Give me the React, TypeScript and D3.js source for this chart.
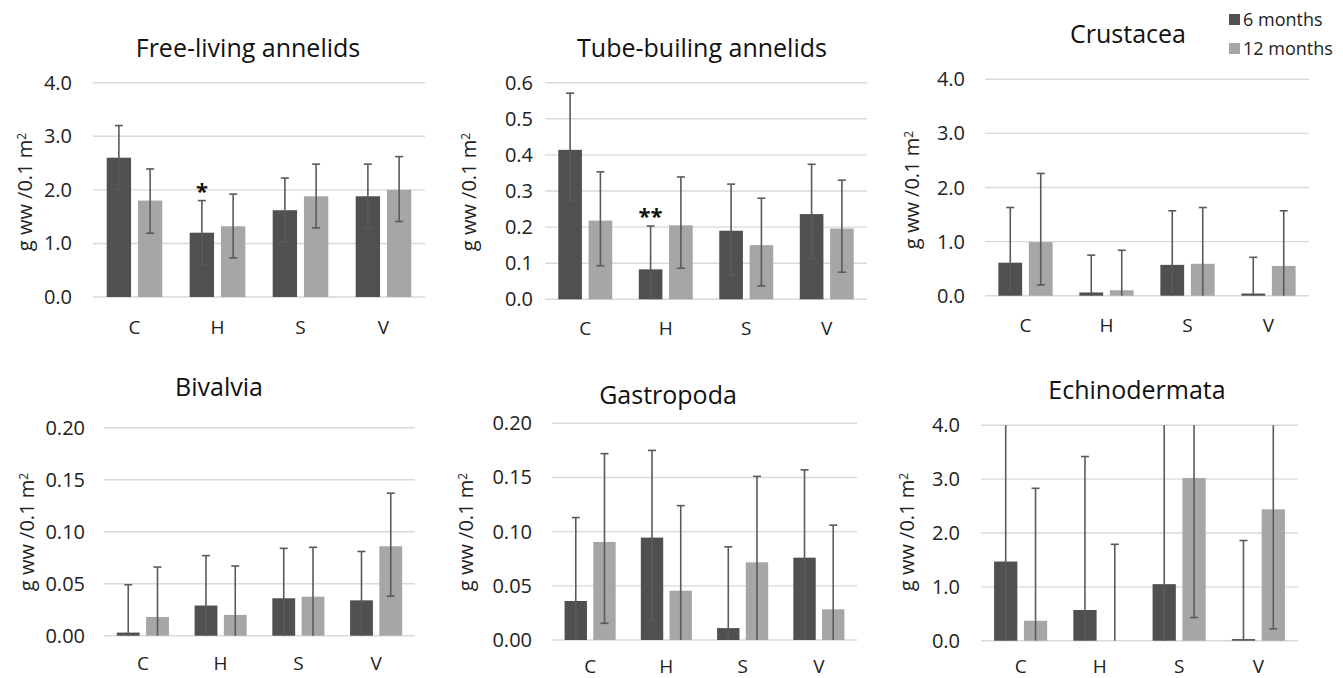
import React from "react";
import * as d3 from "d3";

const categories = ["C", "H", "S", "V"];
const seriesNames = ["6 months", "12 months"];
const titles = [
  "Free-living annelids",
  "Tube-builing annelids",
  "Crustacea",
  "Bivalvia",
  "Gastropoda",
  "Echinodermata",
];

// means and error-bar ends (upper / lower) per panel, per series
const freeMean6 = [2.6, 1.2, 1.62, 1.88];
const freeHi6 = [3.2, 1.8, 2.22, 2.48];
const freeLo6 = [2.0, 0.6, 1.03, 1.29];
const freeMean12 = [1.8, 1.32, 1.88, 2.0];
const freeHi12 = [2.39, 1.92, 2.48, 2.62];
const freeLo12 = [1.19, 0.73, 1.29, 1.41];

const tubeMean6 = [0.414, 0.083, 0.19, 0.236];
const tubeHi6 = [0.571, 0.203, 0.319, 0.374];
const tubeLo6 = [0.272, -0.04, 0.067, 0.113];
const tubeMean12 = [0.218, 0.205, 0.15, 0.196];
const tubeHi12 = [0.353, 0.339, 0.28, 0.33];
const tubeLo12 = [0.093, 0.086, 0.037, 0.075];

const crusMean6 = [0.61, 0.06, 0.57, 0.04];
const crusHi6 = [1.63, 0.75, 1.57, 0.71];
const crusLo6 = [-0.41, -0.63, -0.43, -0.63];
const crusMean12 = [0.99, 0.1, 0.59, 0.55];
const crusHi12 = [2.26, 0.84, 1.63, 1.57];
const crusLo12 = [0.2, -0.64, -0.45, -0.47];

const bivMean6 = [0.003, 0.029, 0.036, 0.034];
const bivHi6 = [0.049, 0.077, 0.084, 0.081];
const bivLo6 = [-0.043, -0.019, -0.012, -0.013];
const bivMean12 = [0.018, 0.02, 0.0375, 0.086];
const bivHi12 = [0.066, 0.067, 0.085, 0.137];
const bivLo12 = [-0.03, -0.027, -0.01, 0.038];

const gasMean6 = [0.036, 0.0945, 0.011, 0.076];
const gasHi6 = [0.113, 0.175, 0.086, 0.157];
const gasLo6 = [-0.041, 0.018, -0.064, -0.005];
const gasMean12 = [0.0905, 0.0455, 0.0717, 0.0283];
const gasHi12 = [0.172, 0.124, 0.151, 0.106];
const gasLo12 = [0.0154, -0.033, -0.008, -0.049];

const echMean6 = [1.47, 0.57, 1.05, 0.03];
const echHi6 = [4.6, 3.42, 4.2, 1.86];
const echLo6 = [-1.66, -2.28, -2.1, -1.8];
const echMean12 = [0.37, 0, 3.02, 2.44];
const echHi12 = [2.83, 1.79, 5.61, 4.66];
const echLo12 = [-2.09, -1.79, 0.43, 0.22];

const yMax = [4, 0.6, 4, 0.2, 0.2, 4];
const yStep = [1, 0.1, 1, 0.05, 0.05, 1];
const yDecimals = [1, 1, 1, 2, 2, 1];

// significance marks: [panel, category, series, text]
const marks: [number, string, number, string][] = [
  [0, "H", 0, "*"],
  [1, "H", 0, "**"],
];

const panelData = [
  { mean: [freeMean6, freeMean12], hi: [freeHi6, freeHi12], lo: [freeLo6, freeLo12] },
  { mean: [tubeMean6, tubeMean12], hi: [tubeHi6, tubeHi12], lo: [tubeLo6, tubeLo12] },
  { mean: [crusMean6, crusMean12], hi: [crusHi6, crusHi12], lo: [crusLo6, crusLo12] },
  { mean: [bivMean6, bivMean12], hi: [bivHi6, bivHi12], lo: [bivLo6, bivLo12] },
  { mean: [gasMean6, gasMean12], hi: [gasHi6, gasHi12], lo: [gasLo6, gasLo12] },
  { mean: [echMean6, echMean12], hi: [echHi6, echHi12], lo: [echLo6, echLo12] },
];

// layout (pixels)
const layout = [
  { x0: 93, x1: 425, y0: 297, yT: 82.7, tickX: 72, labX: 25, labY: 192, catY: 334, tX: 248, tY: 57 },
  { x0: 545, x1: 867, y0: 299.3, yT: 82.7, tickX: 533, labX: 469, labY: 192, catY: 335, tX: 702, tY: 57 },
  { x0: 985, x1: 1309, y0: 295.7, yT: 79.3, tickX: 965, labX: 912, labY: 190, catY: 332, tX: 1128, tY: 43 },
  { x0: 104, x1: 415, y0: 635.7, yT: 427.7, tickX: 85, labX: 27, labY: 532, catY: 670, tX: 219, tY: 396 },
  { x0: 552, x1: 857, y0: 640, yT: 423.3, tickX: 532, labX: 466, labY: 532, catY: 673, tX: 668, tY: 404 },
  { x0: 981, x1: 1298, y0: 640.7, yT: 425.3, tickX: 960, labX: 907, labY: 532, catY: 673, tX: 1137, tY: 399 },
];

const colors = ["#505050", "#a6a6a6"];
const errColor = "#5a5a5a";
const gridColor = "#d9d9d9";
const FONT = "'Open Sans', sans-serif";

function Panel({ idx }: { idx: number }) {
  const L = layout[idx];
  const D = panelData[idx];
  const y = d3.scaleLinear().domain([0, yMax[idx]]).range([L.y0, L.yT]);
  const x = d3.scaleBand<string>().domain(categories).range([L.x0, L.x1]).paddingInner(0.33).paddingOuter(0.165);
  const xs = d3.scaleBand<number>().domain([0, 1]).range([0, x.bandwidth()]).paddingInner(0.22);
  const ticks = d3.range(0, yMax[idx] + yStep[idx] / 2, yStep[idx]);
  const fmt = d3.format(`.${yDecimals[idx]}f`);
  const clamp = (v: number) => Math.max(0, Math.min(yMax[idx], v));
  return (
    <g>
      <text x={L.tX} y={L.tY} textAnchor="middle" fontSize={25} fill="#111" fontFamily={FONT}>
        {titles[idx]}
      </text>
      {ticks.map((t) => (
        <g key={t}>
          <line x1={L.x0} x2={L.x1} y1={y(t)} y2={y(t)} stroke={gridColor} strokeWidth={1.4} />
          <text x={L.tickX} y={y(t)} dy="0.35em" textAnchor="end" fontSize={20} fill="#222" fontFamily={FONT}>
            {fmt(t)}
          </text>
        </g>
      ))}
      <text
        transform={`translate(${L.labX},${L.labY}) rotate(-90)`}
        textAnchor="middle"
        dy="0.35em"
        fontSize={20}
        fill="#222"
        fontFamily={FONT}
      >
        g ww /0.1 m<tspan dy="-0.5em" fontSize={12}>2</tspan>
      </text>
      {categories.map((c, ci) => (
        <g key={c}>
          {[0, 1].map((s) => {
            const v = D.mean[s][ci];
            const bx = (x(c) as number) + (xs(s) as number);
            const bw = xs.bandwidth();
            const cx = bx + bw / 2;
            const hi = D.hi[s][ci];
            const lo = D.lo[s][ci];
            return (
              <g key={s}>
                {v > 0 && (
                  <rect x={bx} y={y(v)} width={bw} height={y(0) - y(v)} fill={colors[s]} />
                )}
                <line x1={cx} x2={cx} y1={y(clamp(lo))} y2={y(clamp(hi))} stroke={errColor} strokeWidth={1.6} />
                {hi <= yMax[idx] && (
                  <line x1={cx - 4} x2={cx + 4} y1={y(hi)} y2={y(hi)} stroke={errColor} strokeWidth={1.6} />
                )}
                {lo >= 0 && (
                  <line x1={cx - 4} x2={cx + 4} y1={y(lo)} y2={y(lo)} stroke={errColor} strokeWidth={1.6} />
                )}
              </g>
            );
          })}
          <text x={(x(c) as number) + x.bandwidth() / 2} y={L.catY} textAnchor="middle" fontSize={19} fill="#222" fontFamily={FONT}>
            {c}
          </text>
        </g>
      ))}
      {marks
        .filter((m) => m[0] === idx)
        .map((m, i) => {
          const cx = (x(m[1]) as number) + (xs(m[2]) as number) + xs.bandwidth() / 2;
          const top = y(D.hi[m[2]][categories.indexOf(m[1])]);
          return (
            <text key={i} x={cx} y={top - 2} textAnchor="middle" fontSize={22} fontWeight="bold" fill="#111" fontFamily={FONT}>
              {m[3]}
            </text>
          );
        })}
    </g>
  );
}

export default function App() {
  return (
    <svg
      width={1343}
      height={678}
      style={{ position: "absolute", left: 0, top: 0, background: "#fff" }}
    >
      <rect width={1343} height={678} fill="#fff" />
      {titles.map((_, i) => (
        <Panel key={i} idx={i} />
      ))}
      {seriesNames.map((n, i) => (
        <g key={n}>
          <rect x={1229} y={14 + i * 29} width={11} height={11} fill={colors[i]} />
          <text x={1243} y={26 + i * 29} fontSize={18} fill="#222" fontFamily={FONT}>
            {n}
          </text>
        </g>
      ))}
    </svg>
  );
}
